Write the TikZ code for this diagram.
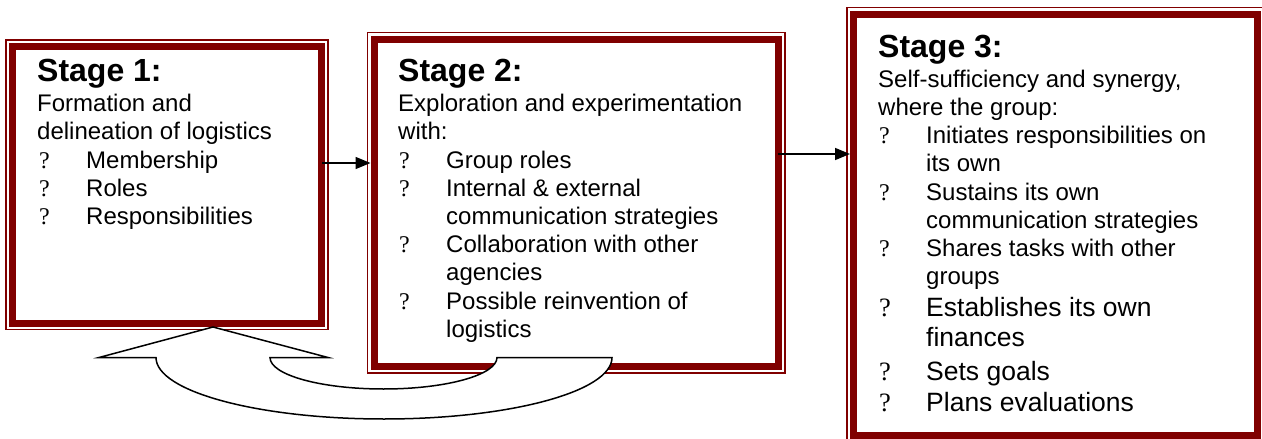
\documentclass[tikz,border=0pt]{standalone}
\usepackage{fontspec}
\setmainfont{Liberation Sans}
\newfontfamily\bulfont{Liberation Serif}
\usetikzlibrary{arrows.meta}
\definecolor{maroon}{RGB}{128,0,0}
\begin{document}
\begin{tikzpicture}[x=1pt,y=-1pt,
  thickframe/.style={rectangle, draw=maroon, line width=7pt, outer sep=3.5pt, inner sep=0pt, fill=white},
  thinframe/.style={draw=maroon, line width=1.5pt},
  conn/.style={draw=black, line width=1.5pt, -{Triangle[length=15pt,width=12pt]}},
  uarrow/.style={draw=black, line width=1.5pt, fill=white, line join=miter},
  head/.style={anchor=base west, inner sep=0pt, font=\fontsize{32}{36}\selectfont\bfseries},
  body/.style={anchor=base west, inner sep=0pt, font=\fontsize{24}{28}\selectfont},
  big/.style={anchor=base west, inner sep=0pt, font=\fontsize{26.5}{31}\selectfont},
  bul/.style={anchor=base west, inner sep=0pt, font=\bulfont\fontsize{24}{28}\selectfont},
  bigbul/.style={anchor=base west, inner sep=0pt, font=\bulfont\fontsize{26.5}{31}\selectfont},
]
\useasboundingbox (0,0) rectangle (1262,439);
\fill[white] (0,0) rectangle (1262,439);
\begin{scope}
\clip (0,0) rectangle (1262,439);
% frames
\node[thickframe, minimum width=309pt, minimum height=276.5pt] (s1) at (167,184.75) {};
\draw[thinframe] ([shift={(-3,-3)}]s1.north west) rectangle ([shift={(3,3)}]s1.south east);
\node[thickframe, minimum width=404.5pt, minimum height=327.5pt] (s2) at (576.25,202.75) {};
\draw[thinframe] ([shift={(-3,-3)}]s2.north west) rectangle ([shift={(3,3)}]s2.south east);
\node[thickframe, minimum width=404pt, minimum height=421.5pt] (s3) at (1055.5,224.75) {};
\draw[thinframe] ([shift={(-3,-3)}]s3.north west) rectangle ([shift={(3,3)}]s3.south east);
% curved return arrow
\draw[uarrow] (213,327) -- (328,357.5) -- (270,357.5)
  .. controls (270,374.9) and (320.8,389) .. (383.5,389)
  .. controls (446.2,389) and (497,374.9) .. (497,357.5) -- (612,357.5)
  .. controls (612,391.5) and (509.9,419) .. (384,419)
  .. controls (258.1,419) and (156,391.5) .. (156,357.5) -- (99,357.5) -- cycle;
% connectors
\draw[conn] (s1.center |- 0,163) ++(155,0) -- (s2.west |- 0,163);
\draw[conn] (s2.center |- 0,154) ++(202,0) -- (s3.west |- 0,154);
% stage 1 text
\node[head] (h1) at (37,81.7) {Stage 1:};
\node[body] (a1) at (37,111.7) {Formation and};
\node[body] (a2) at (37,139.9) {delineation of logistics};
\node[bul] (a3b) at (39,168.1) {?};
\node[body] (a3) at (86,168.1) {Membership};
\node[bul] (a4b) at (39,196.3) {?};
\node[body] (a4) at (86,196.3) {Roles};
\node[bul] (a5b) at (39,224.5) {?};
\node[body] (a5) at (86,224.5) {Responsibilities};
% stage 2 text
\node[head] (h2) at (398,81.7) {Stage 2:};
\node[body] (b1) at (398,111.7) {Exploration and experimentation};
\node[body] (b2) at (398,139.9) {with:};
\node[bul] (b3b) at (399,168.1) {?};
\node[body] (b3) at (446,168.1) {Group roles};
\node[bul] (b4b) at (399,196.3) {?};
\node[body] (b4) at (446,196.3) {Internal \& external};
\node[body] (b5) at (446,224.5) {communication strategies};
\node[bul] (b6b) at (399,252.7) {?};
\node[body] (b6) at (446,252.7) {Collaboration with other};
\node[body] (b7) at (446,280.9) {agencies};
\node[bul] (b8b) at (399,309.1) {?};
\node[body] (b8) at (446,309.1) {Possible reinvention of};
\node[body] (b9) at (446,337.3) {logistics};
% stage 3 text
\node[head] (h3) at (878,57.3) {Stage 3:};
\node[body] (c1) at (878,87.3) {Self-sufficiency and synergy,};
\node[body] (c2) at (878,115.5) {where the group:};
\node[bul] (c3b) at (879,143.7) {?};
\node[body] (c3) at (926,143.7) {Initiates responsibilities on};
\node[body] (c4) at (926,171.9) {its own};
\node[bul] (c5b) at (879,200.1) {?};
\node[body] (c5) at (926,200.1) {Sustains its own};
\node[body] (c6) at (926,228.3) {communication strategies};
\node[bul] (c7b) at (879,256.5) {?};
\node[body] (c7) at (926,256.5) {Shares tasks with other};
\node[body] (c8) at (926,284.7) {groups};
\node[bigbul] (c9b) at (879,316.7) {?};
\node[big] (c9) at (926,316.7) {Establishes its own};
\node[big] (c10) at (926,346.7) {finances};
\node[bigbul] (c11b) at (879,380) {?};
\node[big] (c11) at (926,380) {Sets goals};
\node[bigbul] (c12b) at (879,411.7) {?};
\node[big] (c12) at (926,411.7) {Plans evaluations};
\end{scope}
\end{tikzpicture}
\end{document}
